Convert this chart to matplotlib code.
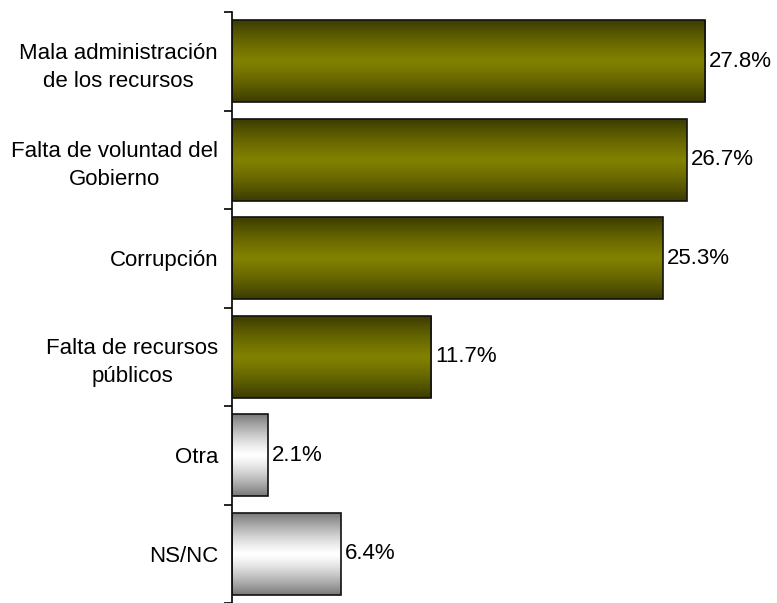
import numpy as np
import matplotlib
matplotlib.use('Agg')
import matplotlib.pyplot as plt
import matplotlib.colors as mcolors
from matplotlib.patches import Rectangle

categories = ['Mala administración\nde los recursos',
              'Falta de voluntad del\nGobierno',
              'Corrupción',
              'Falta de recursos\npúblicos',
              'Otra',
              'NS/NC']
values = [27.8, 26.7, 25.3, 11.7, 2.1, 6.4]
value_labels = ['27.8%', '26.7%', '25.3%', '11.7%', '2.1%', '6.4%']
bar_kind = ['olive', 'olive', 'olive', 'olive', 'gray', 'gray']

plt.rcParams['font.family'] = ['Liberation Sans', 'DejaVu Sans']

gradients = {
    'olive': ('#3c3c00', '#808000'),
    'gray': ('#7a7a7a', '#ffffff'),
}


def bar_gradient(kind, n=100):
    edge, mid = gradients[kind]
    edge = np.array(mcolors.to_rgb(edge))
    mid = np.array(mcolors.to_rgb(mid))
    t = np.linspace(-1, 1, n)
    w = np.clip(1 - np.abs(t) ** 1.3, 0, 1)[:, None]
    img = edge * (1 - w) + mid * w
    return img[:, None, :]


fig = plt.figure(figsize=(7.77, 6.03), dpi=100)
ax = fig.add_axes([232 / 777, 0.0, 1 - 232 / 777, (603 - 12) / 603])

n = len(categories)
bar_h = 0.83
fs = 16
for i, (val, kind, lab) in enumerate(zip(values, bar_kind, value_labels)):
    y = n - 1 - i
    ax.imshow(bar_gradient(kind), extent=[0, val, y - bar_h / 2, y + bar_h / 2],
              aspect='auto', interpolation='bilinear', zorder=2)
    ax.add_patch(Rectangle((0, y - bar_h / 2), val, bar_h, fill=False,
                           edgecolor='#111111', linewidth=1.2, zorder=3))
    ax.text(val + 0.22, y, lab, va='center', ha='left', fontsize=fs, color='black')

ax.set_xlim(0, 32)
ax.set_ylim(-0.5, n - 0.5)

ax.set_yticks(range(n))
ax.set_yticklabels(categories[::-1], fontsize=fs, ha='right',
                   multialignment='center', linespacing=1.45)
ax.tick_params(axis='y', which='major', length=0, pad=10)
ax.set_yticks(np.arange(-0.5, n, 1.0), minor=True)
ax.tick_params(axis='y', which='minor', length=6, width=1.2, direction='out')

ax.set_xticks([])
for s in ['top', 'right', 'bottom']:
    ax.spines[s].set_visible(False)
ax.spines['left'].set_linewidth(1.2)

fig.savefig('out.png', dpi=100)
